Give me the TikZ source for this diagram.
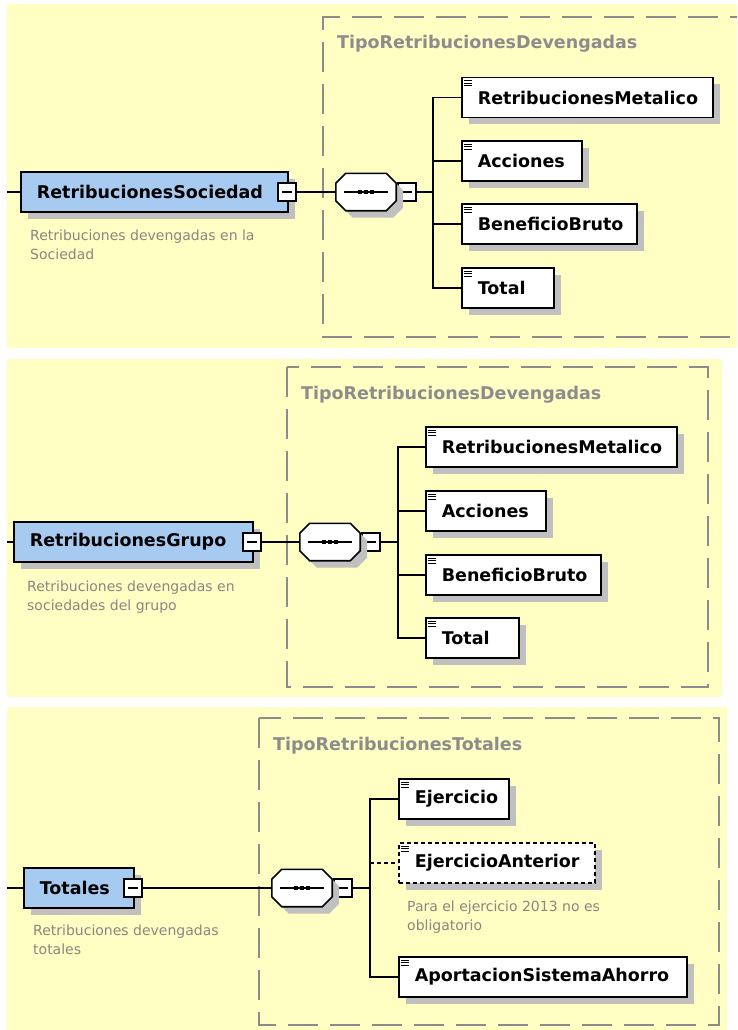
\documentclass[tikz,border=0pt]{standalone}
\usepackage{fontspec}
\setmainfont{DejaVu Sans}
\usetikzlibrary{shadows}
\definecolor{bgyel}{RGB}{255,255,196}
\definecolor{elblue}{RGB}{166,202,240}
\definecolor{shadowc}{RGB}{192,192,192}
\definecolor{dashc}{RGB}{140,140,140}
\definecolor{descc}{RGB}{138,134,130}
\definecolor{titlec}{RGB}{140,140,140}
\newcommand\lbl[2]{\makebox[#1pt][l]{\hspace*{16pt}#2}}
\newcommand\octpath[3]{([xshift=#2+10pt,yshift=#3]#1.north west) -- ([xshift=#2-10pt,yshift=#3]#1.north east) -- ([xshift=#2,yshift=#3-10pt]#1.north east) -- ([xshift=#2,yshift=#3+10pt]#1.south east) -- ([xshift=#2-10pt,yshift=#3]#1.south east) -- ([xshift=#2+10pt,yshift=#3]#1.south west) -- ([xshift=#2,yshift=#3+10pt]#1.south west) -- ([xshift=#2,yshift=#3-10pt]#1.north west) -- cycle}
\newcommand\seqdraw[1]{%
  \fill[shadowc] \octpath{#1}{7pt}{-7pt};
  \draw[conn,line width=1.6pt,fill=white] \octpath{#1}{0pt}{0pt};
  \draw[conn] ([xshift=8pt]#1.west) -- ([xshift=-8pt]#1.east);
  \foreach \dx in {-6,0,6}{\fill ([xshift=\dx pt]#1.center) ++(-2.3,-2.3) rectangle ++(4.6,4.6);}
}
\begin{document}
\begin{tikzpicture}[x=1pt,y=-1pt,
  panel/.style={fill=bgyel,draw=none},
  typebox/.style={draw=dashc,line width=1.5pt,dash pattern=on 30pt off 12pt},
  typetitle/.style={text=titlec,font=\fontsize{17.5}{21}\selectfont\bfseries,inner sep=0,anchor=base west},
  elbase/.style={draw=black,line width=1.6pt,inner sep=0,minimum height=40pt,anchor=west,
    font=\fontsize{17.5}{21}\selectfont\bfseries,
    drop shadow={shadow xshift=7pt,shadow yshift=-7pt,fill=shadowc,opacity=1}},
  topel/.style={elbase,fill=elblue},
  child/.style={elbase,fill=white,path picture={
    \foreach \d in {3,5.5,8}{\draw[solid,line width=0.9pt] ([xshift=2pt,yshift=-\d pt]path picture bounding box.north west) -- ++(8,0);}}},
  optchild/.style={child,dash pattern=on 4pt off 3pt},
  minus/.style={draw=black,fill=white,line width=1.4pt,minimum width=18pt,minimum height=18pt,inner sep=0,
    path picture={\draw[line width=1.4pt] ([xshift=4pt]path picture bounding box.west) -- ([xshift=-4pt]path picture bounding box.east);}},
  seqbox/.style={minimum width=60pt,minimum height=37pt,inner sep=0,draw=none},
  conn/.style={line width=1.4pt,draw=black},
  desc/.style={text=descc,font=\fontsize{14}{19}\selectfont,align=left,inner sep=0,anchor=north west}
]
\useasboundingbox (0,0) rectangle (737,1030);
\clip (0,0) rectangle (737,1030);
\fill[white] (0,0) rectangle (737,1030);

% ---------- panel 1 ----------
\fill[panel] (7,4) rectangle (737,348);
\draw[typebox] (760,17) -- (323,17) -- (323,337) -- (760,337);
\node[typetitle] (t1) at (337,49) {TipoRetribucionesDevengadas};
\coordinate (in1) at (7,192);
\node[topel] (RS) at (20,192) {\lbl{267}{RetribucionesSociedad}};
\node[minus] (m1) at (287,192) {};
\node[desc] (d1) at (30,229.5) {Retribuciones devengadas en la\\Sociedad};
\node[seqbox] (s1) at (366,192) {};
\node[minus] (ms1) at (407,192) {};
\coordinate (b1) at (433,192);
\node[child] (c11) at (461,97.5) {\lbl{251}{RetribucionesMetalico}};
\node[child] (c12) at (461,161) {\lbl{120}{Acciones}};
\node[child] (c13) at (461,224) {\lbl{175}{BeneficioBruto}};
\node[child] (c14) at (461,288) {\lbl{92}{Total}};
\draw[conn] (in1) -- (RS.west);
\draw[conn] (m1.east) -- (s1.west);
\seqdraw{s1}
\draw[conn] (s1.east) -- (ms1.west);
\draw[conn] (ms1.east) -- (b1);
\foreach \c in {c11,c12,c13,c14}{\draw[conn] (b1) |- (\c.west);}

% ---------- panel 2 ----------
\fill[panel] (7,359) rectangle (722,697);
\draw[typebox] (287,367) rectangle (708,687);
\node[typetitle] (t2) at (301,399) {TipoRetribucionesDevengadas};
\coordinate (in2) at (7,542);
\node[topel] (RG) at (13,542) {\lbl{239}{RetribucionesGrupo}};
\node[minus] (m2) at (252,542) {};
\node[desc] (d2) at (27,580.4) {Retribuciones devengadas en\\sociedades del grupo};
\node[seqbox] (s2) at (330,542) {};
\node[minus] (ms2) at (371,542) {};
\coordinate (b2) at (398,542);
\node[child] (c21) at (425,447) {\lbl{251}{RetribucionesMetalico}};
\node[child] (c22) at (425,511) {\lbl{120}{Acciones}};
\node[child] (c23) at (425,575) {\lbl{175}{BeneficioBruto}};
\node[child] (c24) at (425,638) {\lbl{93}{Total}};
\draw[conn] (in2) -- (RG.west);
\draw[conn] (m2.east) -- (s2.west);
\seqdraw{s2}
\draw[conn] (s2.east) -- (ms2.west);
\draw[conn] (ms2.east) -- (b2);
\foreach \c in {c21,c22,c23,c24}{\draw[conn] (b2) |- (\c.west);}

% ---------- panel 3 ----------
\fill[panel] (7,707) rectangle (727,1030);
\draw[typebox] (259,718) rectangle (719,1025);
\node[typetitle] (t3) at (273,750) {TipoRetribucionesTotales};
\coordinate (in3) at (7,888);
\node[topel] (TO) at (23,888) {\lbl{110}{Totales}};
\node[minus] (m3) at (133,888) {};
\node[desc] (d3) at (33,924.4) {Retribuciones devengadas\\totales};
\node[seqbox] (s3) at (302,888) {};
\node[minus] (ms3) at (343,888) {};
\coordinate (b3) at (370,888);
\node[child] (c31) at (398,799) {\lbl{110}{Ejercicio}};
\node[optchild] (c32) at (398,863) {\lbl{196}{EjercicioAnterior}};
\node[desc] (d32) at (407,900.4) {Para el ejercicio 2013 no es\\obligatorio};
\node[child] (c33) at (398,977) {\lbl{288}{AportacionSistemaAhorro}};
\draw[conn] (in3) -- (TO.west);
\draw[conn] (m3.east) -- (s3.west);
\seqdraw{s3}
\draw[conn] (s3.east) -- (ms3.west);
\draw[conn] (ms3.east) -- (b3);
\draw[conn] (b3) |- (c31.west);
\draw[conn] (b3) |- (c33.west);
\draw[conn,dash pattern=on 4pt off 3pt] (b3 |- c32.west) -- (c32.west);
\end{tikzpicture}
\end{document}
